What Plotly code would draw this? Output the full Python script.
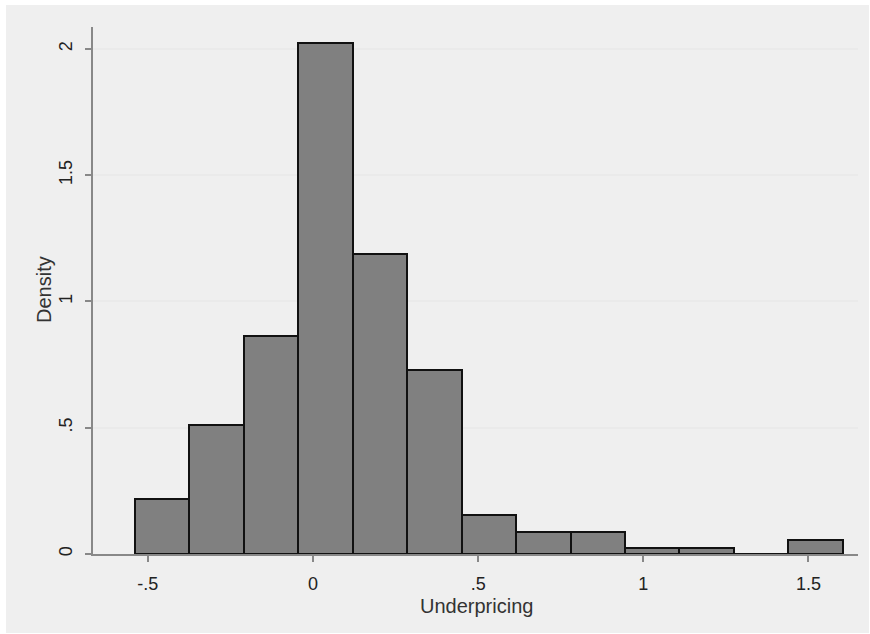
import plotly.graph_objects as go

# Histogram data (density per bin)
bin_edges = [-0.5395, -0.3746, -0.2097, -0.0448, 0.1201, 0.2850, 0.4499,
             0.6148, 0.7797, 0.9446, 1.1095, 1.2744, 1.4393, 1.6042]
density = [0.218, 0.511, 0.863, 2.025, 1.188, 0.730, 0.154,
           0.087, 0.087, 0.025, 0.025, 0.0, 0.057]

x_tickvals = [-0.5, 0, 0.5, 1, 1.5]
x_ticktext = ["-.5", "0", ".5", "1", "1.5"]
y_tickvals = [0, 0.5, 1, 1.5, 2]
y_ticktext = ["0", ".5", "1", "1.5", "2"]
x_title = "Underpricing"
y_title = "Density"

centers = [(bin_edges[i] + bin_edges[i + 1]) / 2 for i in range(len(density))]
widths = [bin_edges[i + 1] - bin_edges[i] for i in range(len(density))]

fig = go.Figure()
fig.add_trace(go.Bar(
    x=centers, y=density, width=widths,
    marker=dict(color="#808080", line=dict(color="#111111", width=2)),
    showlegend=False,
))

W, H = 870, 634
ml, mr, mt, mb = 93, 12, 27, 80
pw, ph = W - ml - mr, H - mt - mb

def px2paper_x(px):
    return (px - ml) / pw

def px2paper_y(py):
    return (H - mb - py) / ph

# grey outer panel with thin white border
fig.add_shape(type="rect", xref="paper", yref="paper",
              x0=px2paper_x(6), x1=px2paper_x(869), y0=px2paper_y(633), y1=px2paper_y(5),
              fillcolor="#EFEFEF", line=dict(width=0), layer="below")

# axis titles placed as annotations
fig.add_annotation(text=x_title, xref="paper", yref="paper",
                   x=px2paper_x(476), y=px2paper_y(606),
                   xanchor="center", yanchor="middle", showarrow=False,
                   font=dict(size=20, color="#333333"))
fig.add_annotation(text=y_title, xref="paper", yref="paper",
                   x=px2paper_x(44), y=px2paper_y(290),
                   xanchor="center", yanchor="middle", showarrow=False,
                   textangle=-90, font=dict(size=20, color="#333333"))

fig.update_layout(
    width=W, height=H,
    margin=dict(l=ml, r=mr, t=mt, b=mb),
    paper_bgcolor="white",
    plot_bgcolor="white",
    bargap=0,
    font=dict(family="Liberation Sans, Arial, sans-serif", size=18, color="#222222"),
    xaxis=dict(
        range=[-0.666, 1.650],
        tickvals=x_tickvals, ticktext=x_ticktext,
        ticks="outside", ticklen=6, tickwidth=1.5, tickcolor="#888888",
        showline=True, linecolor="#888888", linewidth=2,
        showgrid=False, zeroline=False,
        ticklabelstandoff=6,
        tickfont=dict(size=18, color="#222222"),
    ),
    yaxis=dict(
        range=[0, 2.087],
        tickvals=y_tickvals, ticktext=y_ticktext, tickangle=-90,
        ticks="outside", ticklen=6, tickwidth=1.5, tickcolor="#888888",
        showline=True, linecolor="#888888", linewidth=2,
        showgrid=True, gridcolor="#EAEAEA", gridwidth=1.5,
        zeroline=False,
        ticklabelstandoff=6,
        tickfont=dict(size=18, color="#222222"),
    ),
)

fig.write_html("out.html")
